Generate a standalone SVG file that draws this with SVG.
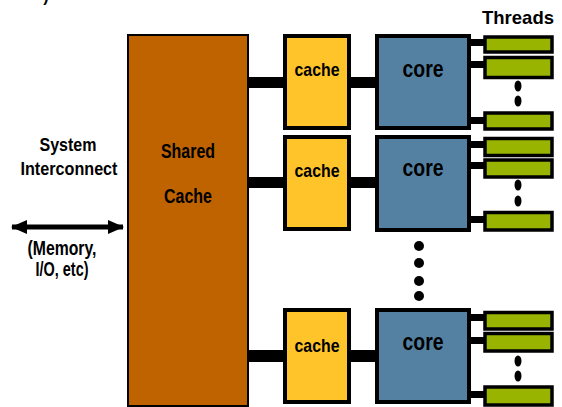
<svg xmlns="http://www.w3.org/2000/svg" width="562" height="407" viewBox="0 0 562 407">
  <style>
    .lbl { font-family: "Liberation Sans", Arial, sans-serif; font-weight: bold; fill: #000; text-anchor: middle; }
    .shared { fill: #BF6300; stroke: #000; stroke-width: 2; }
    .cache { fill: #FEC42A; stroke: #000; stroke-width: 4; }
    .core { fill: #5481A2; stroke: #000; stroke-width: 4; }
    .thread { fill: #98B300; stroke: #000; stroke-width: 3.5; }
    .dot { fill: #000; }
  </style>
  <defs>
    <marker id="head" viewBox="0 0 16 14" refX="15" refY="7" markerWidth="16" markerHeight="14" markerUnits="userSpaceOnUse" orient="auto-start-reverse">
      <path d="M0,0 L16,7 L0,14 Z" fill="#000"/>
    </marker>
  </defs>

  <rect width="562" height="407" fill="#fff"/>
  <text class="lbl" x="46" y="2" font-size="16">)</text>

  <!-- connectors -->
  <g id="connectors" fill="#000">
    <!-- shared cache to private caches to cores -->
    <rect x="248" y="77" width="37" height="11"/>
    <rect x="349" y="77" width="28" height="11"/>
    <rect x="248" y="177" width="37" height="11"/>
    <rect x="349" y="177" width="28" height="11"/>
    <rect x="248" y="350" width="37" height="12"/>
    <rect x="349" y="350" width="28" height="12"/>
    <!-- cores to threads -->
    <rect x="469" y="39" width="16" height="7"/>
    <rect x="469" y="61" width="16" height="7"/>
    <rect x="469" y="117" width="16" height="7"/>
    <rect x="469" y="141" width="16" height="7"/>
    <rect x="469" y="162" width="16" height="7"/>
    <rect x="469" y="216" width="16" height="7"/>
    <rect x="469" y="314" width="16" height="7"/>
    <rect x="469" y="337" width="16" height="7"/>
    <rect x="469" y="391" width="16" height="7"/>
    <!-- system interconnect -->
    <line x1="12" y1="227" x2="123" y2="227" stroke="#000" stroke-width="5" marker-start="url(#head)" marker-end="url(#head)"/>
  </g>

  <g id="system-interconnect">
    <text class="lbl" x="68" y="151" font-size="19" textLength="57" lengthAdjust="spacingAndGlyphs">System</text>
    <text class="lbl" x="69" y="175" font-size="19" textLength="97" lengthAdjust="spacingAndGlyphs">Interconnect</text>
    <text class="lbl" x="62" y="255" font-size="20" textLength="69" lengthAdjust="spacingAndGlyphs">(Memory,</text>
    <text class="lbl" x="62" y="276" font-size="20" textLength="53" lengthAdjust="spacingAndGlyphs">I/O, etc)</text>
  </g>

  <g id="shared-cache">
    <rect class="shared" x="128" y="35" width="120" height="371"/>
    <text class="lbl" x="188" y="158" font-size="20" textLength="54" lengthAdjust="spacingAndGlyphs">Shared</text>
    <text class="lbl" x="188" y="203" font-size="20" textLength="48" lengthAdjust="spacingAndGlyphs">Cache</text>
  </g>

  <g id="cache-1">
    <rect class="cache" x="285" y="36" width="64" height="92"/>
    <text class="lbl" x="317" y="76" font-size="19" textLength="45" lengthAdjust="spacingAndGlyphs">cache</text>
  </g>
  <g id="cache-2">
    <rect class="cache" x="285" y="137" width="64" height="92"/>
    <text class="lbl" x="317" y="177" font-size="19" textLength="45" lengthAdjust="spacingAndGlyphs">cache</text>
  </g>
  <g id="cache-3">
    <rect class="cache" x="285" y="310" width="64" height="92"/>
    <text class="lbl" x="317" y="352" font-size="19" textLength="45" lengthAdjust="spacingAndGlyphs">cache</text>
  </g>

  <g id="core-1">
    <rect class="core" x="377" y="36" width="92" height="92"/>
    <text class="lbl" x="423" y="77" font-size="24" textLength="41" lengthAdjust="spacingAndGlyphs">core</text>
  </g>
  <g id="core-2">
    <rect class="core" x="377" y="137" width="92" height="93"/>
    <text class="lbl" x="423" y="176" font-size="24" textLength="41" lengthAdjust="spacingAndGlyphs">core</text>
  </g>
  <g id="core-3">
    <rect class="core" x="377" y="310" width="92" height="92"/>
    <text class="lbl" x="423" y="350" font-size="24" textLength="41" lengthAdjust="spacingAndGlyphs">core</text>
  </g>

  <g id="more-cores">
    <circle class="dot" cx="419" cy="246" r="5"/>
    <circle class="dot" cx="419" cy="263" r="5"/>
    <circle class="dot" cx="419" cy="281" r="5"/>
    <circle class="dot" cx="419" cy="296" r="5"/>
  </g>

  <text class="lbl" x="518" y="24" font-size="19" textLength="72" lengthAdjust="spacingAndGlyphs">Threads</text>

  <g id="threads-1">
    <rect class="thread" x="485" y="37" width="67" height="15"/>
    <rect class="thread" x="485" y="57.5" width="67" height="20"/>
    <ellipse class="dot" cx="518" cy="86" rx="3.5" ry="5.5"/>
    <ellipse class="dot" cx="518" cy="101" rx="3.5" ry="5.5"/>
    <rect class="thread" x="485" y="113" width="67" height="16"/>
  </g>
  <g id="threads-2">
    <rect class="thread" x="485" y="138.5" width="67" height="17"/>
    <rect class="thread" x="485" y="160" width="67" height="17"/>
    <ellipse class="dot" cx="518" cy="185" rx="3.5" ry="5.5"/>
    <ellipse class="dot" cx="518" cy="201" rx="3.5" ry="5.5"/>
    <rect class="thread" x="485" y="212.5" width="67" height="17.5"/>
  </g>
  <g id="threads-3">
    <rect class="thread" x="485" y="312.5" width="67" height="16.5"/>
    <rect class="thread" x="485" y="333.5" width="67" height="17.5"/>
    <ellipse class="dot" cx="518" cy="361" rx="3.5" ry="5.5"/>
    <ellipse class="dot" cx="518" cy="376" rx="3.5" ry="5.5"/>
    <rect class="thread" x="485" y="387" width="67" height="18"/>
  </g>
</svg>
